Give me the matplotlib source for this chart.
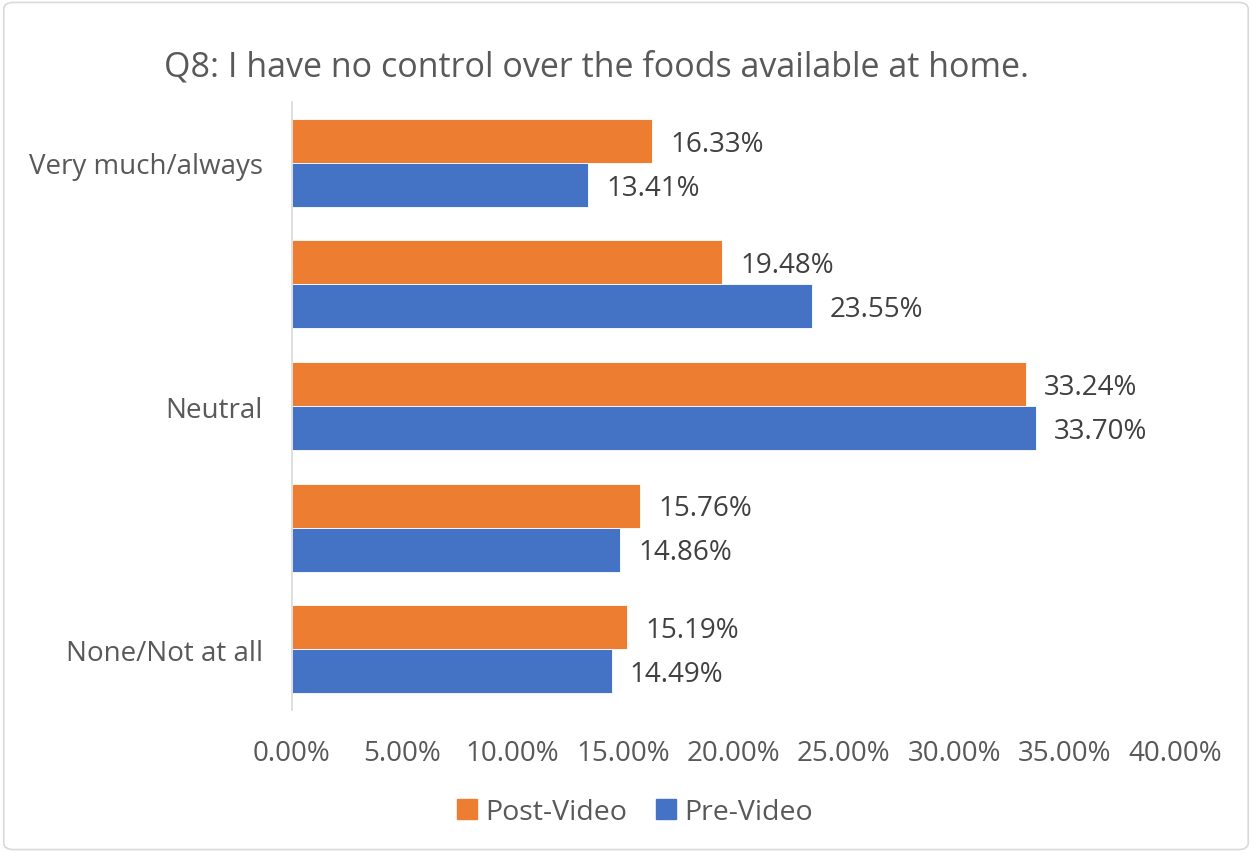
import numpy as np
import matplotlib
matplotlib.use("Agg")
import matplotlib.pyplot as plt
from matplotlib.patches import Patch, FancyBboxPatch

plt.rcParams['font.family'] = ['Open Sans', 'DejaVu Sans']

categories = ["Very much/always", "", "Neutral", "", "None/Not at all"]
post_video = [16.33, 19.48, 33.24, 15.76, 15.19]
pre_video = [13.41, 23.55, 33.70, 14.86, 14.49]
x_ticks = [0, 5, 10, 15, 20, 25, 30, 35, 40]

orange = "#ED7D31"
blue = "#4472C4"
gray = "#595959"

fig = plt.figure(figsize=(12.52, 8.54), dpi=100)
ax = fig.add_axes([0.2332, 0.1674, 0.9385 - 0.2332, 0.8794 - 0.1674])

y = np.arange(len(categories))
h = 0.362
ax.barh(y - h / 2, post_video, height=h, color=orange, edgecolor="white", linewidth=0.6, label="Post-Video")
ax.barh(y + h / 2, pre_video, height=h, color=blue, edgecolor="white", linewidth=0.6, label="Pre-Video")

# data labels to the right of each bar
for yi, v in zip(y, post_video):
    ax.annotate(f"{v:.2f}%", (v, yi - h / 2), xytext=(13, -2), textcoords="offset points",
                va="center", ha="left", fontsize=20, color="#404040")
for yi, v in zip(y, pre_video):
    ax.annotate(f"{v:.2f}%", (v, yi + h / 2), xytext=(13, -2), textcoords="offset points",
                va="center", ha="left", fontsize=20, color="#404040")

ax.set_xlim(0, 40)
ax.set_ylim(4.5, -0.5)
ax.set_xticks(x_ticks)
ax.set_xticklabels([f"{t:.2f}%" for t in x_ticks], fontsize=20, color=gray)
ax.set_yticks(y)
ax.set_yticklabels(categories, fontsize=20, color=gray)
ax.tick_params(axis="both", length=0)
ax.tick_params(axis="x", pad=21)
ax.tick_params(axis="y", pad=21)
for s in ["top", "right", "bottom"]:
    ax.spines[s].set_visible(False)
ax.spines["left"].set_color("#d9d9d9")
ax.spines["left"].set_linewidth(1.2)

fig.text(597 / 1252, 1 - 67 / 854, "Q8: I have no control over the foods available at home.",
         ha="center", va="center", fontsize=24.5, color=gray)

handles = [Patch(color=orange, label="Post-Video"), Patch(color=blue, label="Pre-Video")]
fig.legend(handles=handles, loc="center", bbox_to_anchor=(0.507, 1 - 813 / 854), ncol=2,
           frameon=False, fontsize=20.5, handlelength=0.7, handleheight=0.7,
           handletextpad=0.3, columnspacing=1.0, labelcolor=gray)

border = FancyBboxPatch((0.003, 0.004), 0.994, 0.992, boxstyle="round,pad=0,rounding_size=0.008",
                        transform=fig.transFigure, fill=False, edgecolor="#d9d9d9", linewidth=1.2)
fig.patches.append(border)

fig.savefig("out.png", dpi=100)
